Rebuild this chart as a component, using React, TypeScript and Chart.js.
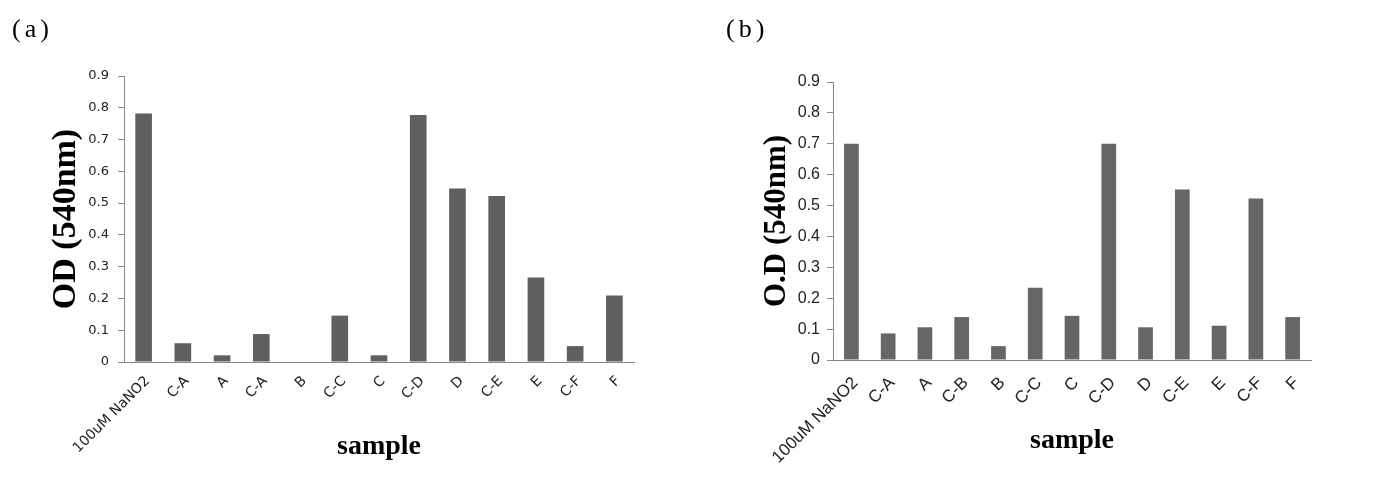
import React, { useEffect, useRef } from "react";
import { Chart, registerables } from "chart.js";

Chart.register(...registerables);

const categoriesA = ["100uM NaNO2", "C-A", "A", "C-A", "B", "C-C", "C", "C-D", "D", "C-E", "E", "C-F", "F"];
const valuesA = [0.782, 0.059, 0.021, 0.088, 0, 0.146, 0.021, 0.777, 0.546, 0.522, 0.266, 0.05, 0.209];

const categoriesB = ["100uM NaNO2", "C-A", "A", "C-B", "B", "C-C", "C", "C-D", "D", "C-E", "E", "C-F", "F"];
const valuesB = [0.7, 0.086, 0.106, 0.139, 0.045, 0.234, 0.143, 0.7, 0.106, 0.552, 0.111, 0.523, 0.139];

const yMin = 0;
const yMax = 0.9;
const yStep = 0.1;

const yTitleA = "OD (540nm)";
const yTitleB = "O.D (540nm)";
const xTitle = "sample";

type PanelStyle = {
  barColor: string;
  barPct: number;
  tickFont: string;
  tickSize: number;
  xTickSize: number;
  xTickPad: number;
  xLabelOffset: number;
  yTitleSize: number;
  xTitleSize: number;
  yScaleWidth: number;
  xScaleHeight: number;
  padTop: number;
  padRight: number;
  yTitlePad: number;
  xTitlePad: number;
  tickPad: number;
};

const axisColor = "#888888";
const textColor = "#222222";

function makeChart(canvas: HTMLCanvasElement, labels: string[], values: number[], yTitle: string, s: PanelStyle) {
  return new Chart(canvas, {
    type: "bar",
    data: {
      labels,
      datasets: [
        {
          data: values,
          backgroundColor: s.barColor,
          borderWidth: 0,
          categoryPercentage: 1,
          barPercentage: s.barPct,
        },
      ],
    },
    options: {
      animation: false,
      responsive: false,
      maintainAspectRatio: false,
      layout: { padding: { top: s.padTop, right: s.padRight, left: 0, bottom: 0 } },
      plugins: { legend: { display: false }, tooltip: { enabled: false } },
      scales: {
        x: {
          grid: { display: true, drawOnChartArea: false, drawTicks: false, color: axisColor },
          border: { display: true, color: axisColor, width: 1 },
          ticks: {
            autoSkip: false,
            maxRotation: 45,
            minRotation: 45,
            padding: s.xTickPad,
            labelOffset: s.xLabelOffset,
            color: textColor,
            font: { family: s.tickFont, size: s.xTickSize },
          },
          title: {
            display: true,
            text: xTitle,
            color: "#000",
            font: { family: "Liberation Serif", size: s.xTitleSize, weight: "bold", lineHeight: 1 },
            padding: { top: 0, bottom: s.xTitlePad },
          },
          afterFit: (scale: any) => {
            scale.height = s.xScaleHeight;
          },
        },
        y: {
          min: yMin,
          max: yMax,
          grid: { display: true, drawOnChartArea: false, drawTicks: true, tickLength: 6, color: axisColor },
          border: { display: true, color: axisColor, width: 1 },
          ticks: {
            stepSize: yStep,
            padding: s.tickPad,
            color: textColor,
            font: { family: s.tickFont, size: s.tickSize },
            callback: (v: any) => String(Number(Number(v).toFixed(1))),
          },
          title: {
            display: true,
            text: yTitle,
            color: "#000",
            font: { family: "Liberation Serif", size: s.yTitleSize, weight: "bold", lineHeight: 1 },
            padding: { top: s.yTitlePad, bottom: 0 },
          },
          afterFit: (scale: any) => {
            scale.width = s.yScaleWidth;
          },
        },
      },
    },
  } as any);
}

const styleA: PanelStyle = {
  barColor: "#606060",
  barPct: 0.425,
  tickFont: "DejaVu Sans",
  tickSize: 13,
  xTickSize: 14,
  xTickPad: 11,
  xLabelOffset: 4,
  yTitleSize: 34,
  xTitleSize: 28,
  yScaleWidth: 124,
  xScaleHeight: 122,
  padTop: 76,
  padRight: 56,
  yTitlePad: 49,
  xTitlePad: 23,
  tickPad: 9,
};

const styleB: PanelStyle = {
  barColor: "#666666",
  barPct: 0.4,
  tickFont: "Liberation Sans",
  tickSize: 16,
  xTickSize: 17,
  xTickPad: 13,
  xLabelOffset: 4,
  yTitleSize: 31,
  xTitleSize: 28,
  yScaleWidth: 141,
  xScaleHeight: 124,
  padTop: 82,
  padRight: 74,
  yTitlePad: 69,
  xTitlePad: 29,
  tickPad: 7,
};

export default function App() {
  const refA = useRef<HTMLCanvasElement>(null);
  const refB = useRef<HTMLCanvasElement>(null);

  useEffect(() => {
    document.body.style.margin = "0";
    const a = makeChart(refA.current!, categoriesA, valuesA, yTitleA, styleA);
    const b = makeChart(refB.current!, categoriesB, valuesB, yTitleB, styleB);
    return () => {
      a.destroy();
      b.destroy();
    };
  }, []);

  const labelStyle: React.CSSProperties = {
    position: "absolute",
    top: 14,
    fontFamily: "Liberation Serif",
    fontSize: 26,
    letterSpacing: 4,
    color: "#000",
    lineHeight: "30px",
  };

  return (
    <div style={{ position: "relative", width: 1385, height: 484, background: "#fff", overflow: "hidden" }}>
      <canvas ref={refA} width={690} height={484} style={{ position: "absolute", left: 0, top: 0 }} />
      <canvas ref={refB} width={693} height={484} style={{ position: "absolute", left: 692, top: 0 }} />
      <div style={{ ...labelStyle, left: 12 }}>(a)</div>
      <div style={{ ...labelStyle, left: 726 }}>(b)</div>
    </div>
  );
}
